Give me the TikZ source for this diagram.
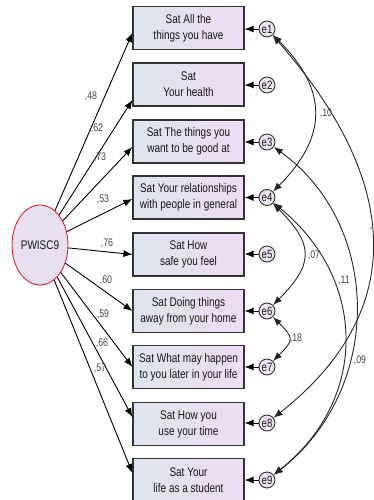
\documentclass[tikz,border=0pt]{standalone}
\usepackage{fontspec}
\setmainfont{Liberation Sans}[FakeStretch=0.8]
\usetikzlibrary{arrows.meta,shapes.geometric}
\definecolor{boxleft}{HTML}{DFE5EE}
\definecolor{boxright}{HTML}{EEDCF4}
\definecolor{latfill}{HTML}{E6E0F1}
\definecolor{latedge}{HTML}{E8202A}
\definecolor{errfill}{HTML}{EDE3F3}
\definecolor{edge}{HTML}{333333}
\definecolor{lab}{HTML}{444444}
\begin{document}
\begin{tikzpicture}[x=1pt,y=-1pt,
  obs/.style={rectangle, draw=edge, line width=1.2pt, left color=boxleft, right color=boxright,
    minimum width=111pt, minimum height=43pt, inner sep=0pt, align=center,
    font=\fontsize{12.5}{16}\selectfont, text=black!90},
  lat/.style={ellipse, draw=latedge, line width=0.9pt, fill=latfill, minimum width=56pt,
    minimum height=80pt, inner sep=0pt, font=\fontsize{12.5}{15}\selectfont, text=black!90},
  err/.style={circle, draw=edge, line width=0.9pt, fill=errfill, minimum size=16pt,
    inner sep=0pt, font=\fontsize{12}{12}\selectfont, text=black!90},
  tipa/.tip={Latex[length=9pt,width=7pt]},
  load/.style={draw=black, line width=0.9pt, -tipa},
  cov/.style={draw=black!85, line width=0.9pt, tipa-tipa},
  coef/.style={font=\fontsize{11}{11}\selectfont, text=lab, inner sep=0pt}
]
\useasboundingbox (0,0) rectangle (373,500);

% latent factor
\node[lat] (P) at (40,245) {PWISC9};

% observed items
\node[obs] (b1) at (188.5,28)  {Sat All the\\things you have};
\node[obs] (b2) at (188.5,84.5) {Sat\\Your health};
\node[obs] (b3) at (188.5,141.5) {Sat The things you\\want to be good at};
\node[obs] (b4) at (188.5,197.5) {Sat Your relationships\\with people in general};
\node[obs] (b5) at (188.5,254.5) {Sat How\\safe you feel};
\node[obs] (b6) at (188.5,311) {Sat Doing things\\away from your home};
\node[obs] (b7) at (188.5,367) {Sat What may happen\\to you later in your life};
\node[obs] (b8) at (188.5,424) {Sat How you\\use your time};
\node[obs] (b9) at (188.5,480) {Sat Your\\life as a student};

% error terms
\foreach \i/\y in {1/29,2/85,3/142,4/197.5,5/254,6/311,7/367,8/423,9/480}{
  \node[err] (e\i) at (267,\y) {e\i};
  \draw[load] (e\i) -- (e\i -| b\i.east);
}

% factor loadings
\draw[load] (P) -- ([yshift=-5pt]b1.west);
\draw[load] (P) -- ([yshift=-15.5pt]b2.west);
\draw[load] (P) -- ([yshift=-5.5pt]b3.west);
\draw[load] (P) -- ([yshift=-1.5pt]b4.west);
\draw[load] (P) -- (b5.west);
\draw[load] (P) -- (b6.west);
\draw[load] (P) -- (b7.west);
\draw[load] (P) -- ([yshift=7pt]b8.west);
\draw[load] (P) -- ([yshift=7pt]b9.west);

\node[coef] (c1) at (91,96)  {,48};
\node[coef] (c2) at (97,128) {,62};
\node[coef] (c3) at (100,157) {,73};
\node[coef] (c4) at (103,199) {,53};
\node[coef] (c5) at (107,243) {,76};
\node[coef] (c6) at (106,280) {,60};
\node[coef] (c7) at (103,314) {,59};
\node[coef] (c8) at (102,343) {,66};
\node[coef] (c9) at (100,368) {,57};

% error covariances
\draw[cov] (e1) .. controls +(61,61) and +(61,-61) .. (e4);
\draw[cov] (e4) .. controls +(47,47) and +(47,-47) .. (e6);
\draw[cov] (e6) .. controls +(27,27) and +(27,-27) .. (e7);
\draw[cov] (e1) .. controls +(133,151) and +(143,-113) .. (e8);
\draw[cov] (e3) .. controls +(116,84) and +(116,-90) .. (e9);
\draw[cov] (e4) .. controls +(101,82.5) and +(101,-80) .. (e9);

\node[coef] (r14) at (326,113) {,10};
\node[coef] (r46) at (314,255) {,07};
\node[coef] (r67) at (296,338) {,18};
\node[coef] (r49) at (344,280) {,11};
\node[coef] (r39) at (360,360) {,09};
\node[coef] (r18) at (371,229) {,};
\end{tikzpicture}
\end{document}
